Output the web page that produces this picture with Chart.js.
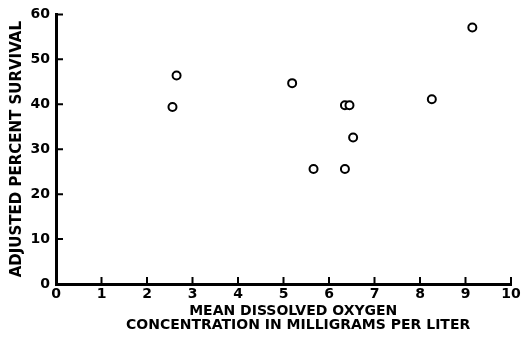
<!DOCTYPE html>
<html>
<head>
<meta charset="utf-8">
<script src="https://cdn.jsdelivr.net/npm/chart.js@4"></script>
<style>
  html, body { margin: 0; padding: 0; background: #fff; }
  #wrap { width: 528px; height: 337px; }
</style>
</head>
<body>
<div id="wrap"><canvas id="chart1" width="528" height="337"></canvas></div>
<script>
// mean dissolved oxygen (mg/l) and adjusted percent survival
var oxygen = [2.56, 2.65, 5.19, 5.66, 6.35, 6.35, 6.45, 6.53, 8.26, 9.15];
var survival = [39.4, 46.4, 44.7, 25.6, 25.6, 39.8, 39.8, 32.6, 41.1, 57.1];

var xTicks = [0, 1, 2, 3, 4, 5, 6, 7, 8, 9, 10];
var yTicks = [0, 10, 20, 30, 40, 50, 60];

var points = oxygen.map(function(x, i) { return {x: x, y: survival[i]}; });

Chart.defaults.font.family = '"DejaVu Sans", sans-serif';
Chart.defaults.font.weight = 'bold';
Chart.defaults.color = '#000';

// short tick marks pointing into the plot
var innerTicks = {
    id: 'innerTicks',
    afterDraw: function(chart) {
        var c = chart.ctx, area = chart.chartArea;
        var xs = chart.scales.x, ys = chart.scales.y;
        c.save();
        c.strokeStyle = '#000';
        c.lineWidth = 2;
        c.beginPath();
        xTicks.forEach(function(v) {
            var px = xs.getPixelForValue(v);
            c.moveTo(px, area.bottom);
            c.lineTo(px, area.bottom - 7);
        });
        yTicks.forEach(function(v) {
            var py = ys.getPixelForValue(v);
            c.moveTo(area.left, py);
            c.lineTo(area.left + 7, py);
        });
        c.stroke();
        c.restore();
    }
};

var ctx = document.getElementById('chart1').getContext('2d');
var chart = new Chart(ctx, {
    type: 'scatter',
    data: {
        datasets: [{
            data: points,
            pointStyle: 'circle',
            pointRadius: 4,
            pointBorderWidth: 2,
            backgroundColor: '#fff',
            borderColor: '#000'
        }]
    },
    options: {
        responsive: false,
        animation: false,
        layout: { padding: { top: 13, right: 17, left: 0, bottom: 0 } },
        plugins: { legend: { display: false }, tooltip: { enabled: false } },
        scales: {
            x: {
                type: 'linear',
                min: 0, max: 10,
                afterFit: function(s) { s.height = 53; },
                afterBuildTicks: function(s) { s.ticks = xTicks.map(function(v) { return {value: v}; }); },
                grid: { display: false, drawTicks: false },
                border: { display: true, color: '#000', width: 3 },
                ticks: { padding: 2, font: { size: 14, weight: 'bold' }, maxRotation: 0 },
                title: {
                    display: true,
                    text: ['    MEAN DISSOLVED OXYGEN', '      CONCENTRATION IN MILLIGRAMS PER LITER'],
                    font: { size: 14, weight: 'bold', lineHeight: 1 },
                    padding: { top: 0, bottom: 5 }
                }
            },
            y: {
                type: 'linear',
                min: 0, max: 60,
                afterFit: function(s) { s.width = 56; },
                afterBuildTicks: function(s) { s.ticks = yTicks.map(function(v) { return {value: v}; }); },
                grid: { display: false, drawTicks: false },
                border: { display: true, color: '#000', width: 3 },
                ticks: { padding: 6, font: { size: 14, weight: 'bold' } },
                title: {
                    display: true,
                    text: 'ADJUSTED PERCENT SURVIVAL',
                    font: { size: 15, weight: 'bold', lineHeight: 1.2 },
                    padding: { top: 8, bottom: 0 }
                }
            }
        }
    },
    plugins: [innerTicks]
});
</script>
</body>
</html>
